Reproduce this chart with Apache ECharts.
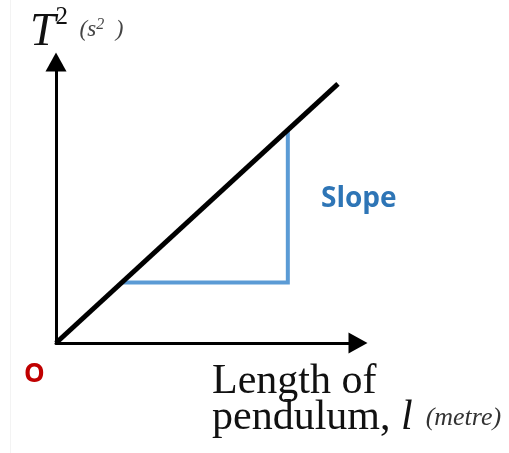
<!DOCTYPE html>
<html>
<head>
<meta charset="utf-8">
<script src="https://cdn.jsdelivr.net/npm/echarts@6/dist/echarts.min.js"></script>
<style>
  html, body { margin: 0; padding: 0; background: #ffffff; }
  #chart { width: 509px; height: 453px; }
</style>
</head>
<body>
<div id="chart"></div>
<script>
// Straight-line graph of T² against pendulum length l (through the origin)
const lengthValues = [0, 9];
const periodSquared = [0, 9];

// Right-angle triangle marking the rise and run used for the slope
const slopeRun = [2.1, 7.4, 7.4];
const slopeRise = [2.1, 2.1, 7.4];

// Axis extents (no ticks or labels are drawn; the axes end in arrow heads)
const lengthAxisMax = 9.64;
const periodAxisMax = 9.76;

const chart = echarts.init(document.getElementById('chart'), null, { renderer: 'canvas' });

const serif = '"Liberation Serif", "Times New Roman", serif';
const sans = '"Open Sans", "Liberation Sans", sans-serif';

function plainAxis(max) {
  return {
    type: 'value',
    min: 0,
    max: max,
    splitLine: { show: false },
    axisTick: { show: false },
    axisLabel: { show: false },
    axisLine: {
      show: true,
      onZero: false,
      symbol: ['none', 'triangle'],
      symbolSize: [21, 19],
      symbolOffset: [0, 0],
      lineStyle: { color: '#000000', width: 3 }
    }
  };
}

chart.setOption({
  backgroundColor: '#ffffff',
  animation: false,
  grid: { left: 56, right: 151, top: 62, bottom: 110 },
  xAxis: plainAxis(lengthAxisMax),
  yAxis: plainAxis(periodAxisMax),
  series: [
    {
      type: 'line',
      data: lengthValues.map((x, i) => [x, periodSquared[i]]),
      symbol: 'none',
      lineStyle: { color: '#000000', width: 5 },
      z: 3
    },
    {
      type: 'line',
      data: slopeRun.map((x, i) => [x, slopeRise[i]]),
      symbol: 'none',
      lineStyle: { color: '#5B9BD5', width: 4, join: 'miter' },
      z: 2
    }
  ],
  graphic: [
    {
      type: 'line',
      shape: { x1: 10.5, y1: 0, x2: 10.5, y2: 453 },
      style: { stroke: '#f3f3f3', lineWidth: 1 },
      silent: true
    },
    {
      type: 'text',
      left: 30,
      top: 5,
      style: {
        text: '{t|T}{sup|2}{u|  (s}{usup|2}{u|  )}',
        rich: {
          t: { fontFamily: serif, fontStyle: 'italic', fontSize: 46, fill: '#111111' },
          sup: { fontFamily: serif, fontSize: 25, fill: '#111111', padding: [0, 0, 30, 0] },
          u: { fontFamily: serif, fontStyle: 'italic', fontSize: 23, fill: '#444444', padding: [0, 0, 5, 0] },
          usup: { fontFamily: serif, fontStyle: 'italic', fontSize: 16, fill: '#444444', padding: [0, 0, 15, 0] }
        }
      }
    },
    {
      type: 'text',
      left: 24,
      top: 362,
      style: {
        text: 'O',
        fontFamily: sans,
        fontWeight: 'bold',
        fontSize: 26,
        fill: '#C00000'
      }
    },
    {
      type: 'text',
      left: 321,
      top: 185,
      style: {
        text: 'Slope',
        fontFamily: sans,
        fontWeight: 'bold',
        fontSize: 28,
        fill: '#2E75B6'
      }
    },
    {
      type: 'text',
      left: 212,
      top: 361,
      style: {
        text: '{a|Length of}\n{a|pendulum, }{i|l}{m|  (metre)}',
        rich: {
          a: { fontFamily: serif, fontSize: 42, fill: '#111111', lineHeight: 36 },
          i: { fontFamily: serif, fontStyle: 'italic', fontSize: 42, fill: '#111111', lineHeight: 36 },
          m: { fontFamily: serif, fontStyle: 'italic', fontSize: 26, fill: '#333333', lineHeight: 36 }
        }
      }
    }
  ]
});
</script>
</body>
</html>
